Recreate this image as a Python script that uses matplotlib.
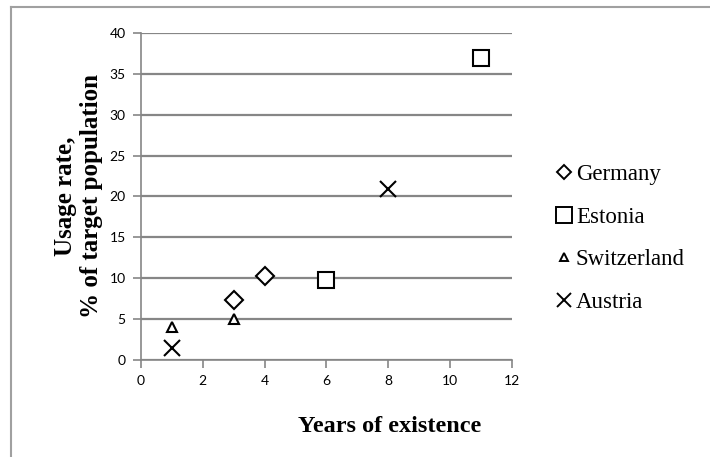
import matplotlib

matplotlib.use("Agg")
import matplotlib.pyplot as plt
from matplotlib.lines import Line2D

COUNTRIES = ["Germany", "Estonia", "Switzerland", "Austria"]
YEARS = {
    "Germany": [3, 4],
    "Estonia": [6, 11],
    "Switzerland": [1, 3],
    "Austria": [1, 8],
}
USAGE = {
    "Germany": [7.3, 10.3],
    "Estonia": [9.8, 36.9],
    "Switzerland": [4.0, 5.0],
    "Austria": [1.5, 20.9],
}
MARKERS = {"Germany": "D", "Estonia": "s", "Switzerland": "^", "Austria": "x"}
SIZES = {"Germany": 9, "Estonia": 12, "Switzerland": 7, "Austria": 12}
LEGEND_SIZES = {"Germany": 7, "Estonia": 11, "Switzerland": 6, "Austria": 10}
X_TICKS = [0, 2, 4, 6, 8, 10, 12]
Y_TICKS = [0, 5, 10, 15, 20, 25, 30, 35, 40]

GRID = "#868686"
SERIF = "Liberation Serif"
TICKFONT = "Lato"

fig = plt.figure(figsize=(7.1, 4.57), dpi=100)
ax = fig.add_axes([0.1986, 0.2123, 0.5225, 0.7155])

for name in COUNTRIES:
    ax.plot(YEARS[name], USAGE[name], linestyle="none", marker=MARKERS[name],
            markersize=SIZES[name], markerfacecolor="white",
            markeredgecolor="black", markeredgewidth=1.5, color="black",
            clip_on=False, zorder=3)

ax.set_xlim(0, 12)
ax.set_ylim(0, 40)
ax.set_xticks(X_TICKS)
ax.set_yticks(Y_TICKS)
ax.yaxis.grid(True, color=GRID, linewidth=1.6)
ax.set_axisbelow(True)
for side in ["top", "right"]:
    ax.spines[side].set_visible(False)
for side in ["left", "bottom"]:
    ax.spines[side].set_color(GRID)
    ax.spines[side].set_linewidth(1.2)
ax.tick_params(direction="out", length=6, width=1.2, color=GRID,
               labelsize=10, pad=5)
for lab in ax.get_xticklabels() + ax.get_yticklabels():
    lab.set_fontfamily(TICKFONT)

ax.set_xlabel("Years of existence", fontfamily=SERIF, fontweight="bold",
              fontsize=17.5)
ax.xaxis.set_label_coords(0.67, -0.17)
ax.set_ylabel("Usage rate,\n% of target population", fontfamily=SERIF,
              fontweight="bold", fontsize=18, labelpad=5, linespacing=1.15)

handles = [Line2D([], [], linestyle="none", marker=MARKERS[n],
                  markersize=LEGEND_SIZES[n], markerfacecolor="white",
                  markeredgecolor="black", markeredgewidth=1.4)
           for n in COUNTRIES]
fig.legend(handles, COUNTRIES, loc="center left",
           bbox_to_anchor=(0.766, 0.478), frameon=False,
           prop={"family": SERIF, "size": 16.5}, handlelength=0.8,
           handletextpad=0.1, labelspacing=0.95, borderpad=0)

# chart-area border (left and top edges visible)
fig.add_artist(Line2D([0.0155, 0.0155], [0, 0.985], color="#a0a0a0",
                      linewidth=1.5, transform=fig.transFigure))
fig.add_artist(Line2D([0.0155, 1.0], [0.985, 0.985], color="#a0a0a0",
                      linewidth=1.5, transform=fig.transFigure))

fig.savefig("out.png", dpi=100)
